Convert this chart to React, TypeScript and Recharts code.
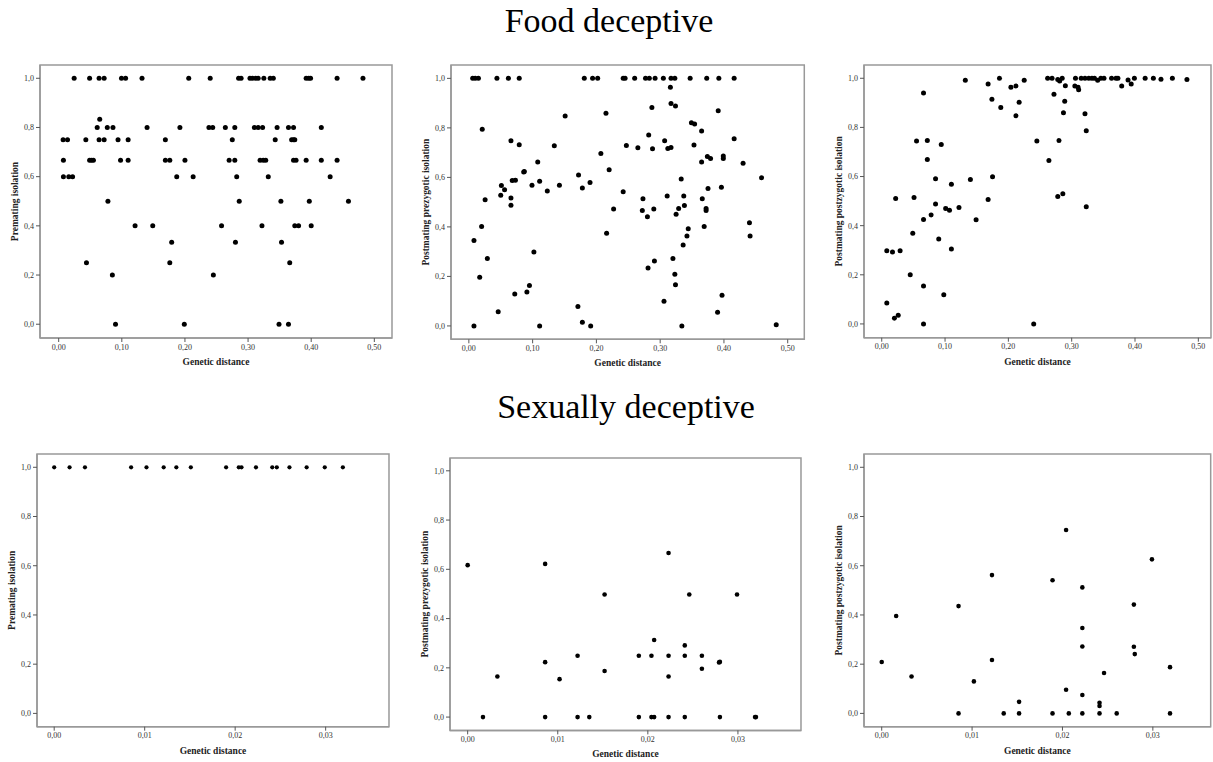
import React from "react";
import { ScatterChart, Scatter, XAxis, YAxis, ReferenceArea, Label } from "recharts";

const topXTicks = [0, 0.1, 0.2, 0.3, 0.4, 0.5];
const bottomXTicks = [0, 0.01, 0.02, 0.03];
const yTicks = [0, 0.2, 0.4, 0.6, 0.8, 1.0];

// Food deceptive - premating isolation
const foodPreX = [
  0.0245, 0.049, 0.064, 0.072, 0.0995, 0.106, 0.132, 0.206, 0.24, 0.285, 0.289, 0.303, 0.307, 0.312, 0.316, 0.325, 0.335, 0.34, 0.392, 0.396, 0.399, 0.441, 0.482,
  0.065,
  0.061, 0.077, 0.086, 0.14, 0.192, 0.238, 0.244, 0.264, 0.279, 0.31, 0.316, 0.323, 0.346, 0.364, 0.372, 0.416,
  0.007, 0.014, 0.043, 0.064, 0.072, 0.094, 0.11, 0.169, 0.275, 0.343, 0.369, 0.372, 0.374,
  0.0075, 0.049, 0.052, 0.055, 0.098, 0.11, 0.169, 0.176, 0.2, 0.27, 0.279, 0.319, 0.324, 0.328, 0.372, 0.376, 0.392, 0.416, 0.441,
  0.0075, 0.016, 0.022, 0.187, 0.213, 0.282, 0.332, 0.43,
  0.078, 0.286, 0.352, 0.397, 0.459,
  0.121, 0.149, 0.258, 0.322, 0.374, 0.38, 0.4,
  0.179, 0.28, 0.353,
  0.044, 0.176, 0.366,
  0.085, 0.245,
  0.09, 0.199, 0.349, 0.364,
];
const foodPreY = [
  1, 1, 1, 1, 1, 1, 1, 1, 1, 1, 1, 1, 1, 1, 1, 1, 1, 1, 1, 1, 1, 1, 1,
  0.833,
  0.8, 0.8, 0.8, 0.8, 0.8, 0.8, 0.8, 0.8, 0.8, 0.8, 0.8, 0.8, 0.8, 0.8, 0.8, 0.8,
  0.75, 0.75, 0.75, 0.75, 0.75, 0.75, 0.75, 0.75, 0.75, 0.75, 0.75, 0.75, 0.75,
  0.667, 0.667, 0.667, 0.667, 0.667, 0.667, 0.667, 0.667, 0.667, 0.667, 0.667, 0.667, 0.667, 0.667, 0.667, 0.667, 0.667, 0.667, 0.667,
  0.6, 0.6, 0.6, 0.6, 0.6, 0.6, 0.6, 0.6,
  0.5, 0.5, 0.5, 0.5, 0.5,
  0.4, 0.4, 0.4, 0.4, 0.4, 0.4, 0.4,
  0.333, 0.333, 0.333,
  0.25, 0.25, 0.25,
  0.2, 0.2,
  0, 0, 0, 0,
];

// Food deceptive - postmating prezygotic isolation
const foodPrezX = [
  0.006, 0.01, 0.015, 0.044, 0.062, 0.079, 0.181, 0.194, 0.202,
  0.242, 0.245, 0.26, 0.277, 0.283, 0.292, 0.305, 0.317, 0.323, 0.347, 0.373, 0.392, 0.416,
  0.021, 0.151, 0.215, 0.066, 0.079, 0.134, 0.207, 0.108, 0.086, 0.087, 0.22, 0.068, 0.073, 0.111, 0.172,
  0.051, 0.099, 0.142, 0.178, 0.19, 0.056, 0.123, 0.05, 0.066, 0.066, 0.0255, 0.02, 0.216, 0.008, 0.102,
  0.029, 0.017, 0.095, 0.091, 0.072, 0.171, 0.046, 0.178, 0.008, 0.111, 0.191,
  0.316, 0.317, 0.324, 0.287, 0.391, 0.349, 0.354, 0.365, 0.282, 0.416, 0.307, 0.247, 0.265, 0.288, 0.312,
  0.317, 0.353, 0.399, 0.399, 0.374, 0.379, 0.365, 0.43, 0.333, 0.459, 0.396, 0.375, 0.242, 0.311, 0.337,
  0.273, 0.366, 0.227, 0.272, 0.29, 0.338, 0.329, 0.325, 0.372, 0.372, 0.28, 0.44, 0.369, 0.344, 0.342,
  0.441, 0.336, 0.291, 0.281, 0.32, 0.323, 0.324, 0.397, 0.306, 0.39, 0.334, 0.482,
];
const foodPrezY = [
  1, 1, 1, 1, 1, 1, 1, 1, 1,
  1, 1, 1, 1, 1, 1, 1, 1, 1, 1, 1, 1, 1,
  0.794, 0.848, 0.859, 0.748, 0.732, 0.728, 0.697, 0.662, 0.622, 0.624, 0.631, 0.587, 0.588, 0.584, 0.61,
  0.567, 0.568, 0.568, 0.557, 0.579, 0.55, 0.545, 0.528, 0.517, 0.487, 0.51, 0.402, 0.374, 0.345, 0.299,
  0.272, 0.197, 0.163, 0.137, 0.129, 0.078, 0.057, 0.015, 0, 0, 0,
  0.964, 0.898, 0.888, 0.882, 0.869, 0.821, 0.816, 0.787, 0.771, 0.756, 0.748, 0.729, 0.72, 0.716, 0.717,
  0.721, 0.731, 0.686, 0.676, 0.684, 0.676, 0.662, 0.657, 0.594, 0.599, 0.56, 0.555, 0.542, 0.525, 0.525,
  0.514, 0.514, 0.472, 0.466, 0.472, 0.486, 0.474, 0.451, 0.474, 0.466, 0.441, 0.417, 0.402, 0.393, 0.363,
  0.363, 0.327, 0.262, 0.234, 0.272, 0.209, 0.166, 0.124, 0.1, 0.055, 0, 0.005,
];

// Food deceptive - postmating postzygotic isolation
const foodPostX = [
  0.132, 0.066, 0.168, 0.186, 0.174, 0.188, 0.204, 0.212, 0.217, 0.212, 0.225, 0.055, 0.072, 0.094,
  0.072, 0.085, 0.14, 0.175, 0.11, 0.022, 0.051, 0.168, 0.085, 0.101, 0.107, 0.078, 0.122, 0.066,
  0.149, 0.049, 0.09, 0.008, 0.017, 0.029, 0.11, 0.045, 0.066, 0.098, 0.008, 0.02, 0.026, 0.066,
  0.262, 0.269, 0.278, 0.281, 0.285, 0.272, 0.29, 0.289, 0.287, 0.245, 0.28, 0.264, 0.278, 0.286,
  0.323, 0.321, 0.323, 0.24, 0.305, 0.31, 0.311, 0.306, 0.315, 0.321, 0.327, 0.332, 0.336, 0.341,
  0.346, 0.351, 0.363, 0.37, 0.373, 0.379, 0.389, 0.394, 0.399, 0.416, 0.429, 0.441, 0.459, 0.482,
];
const foodPostY = [
  0.992, 0.94, 0.977, 1, 0.915, 0.881, 0.963, 0.969, 0.902, 0.847, 0.992, 0.745, 0.747, 0.73,
  0.669, 0.591, 0.588, 0.599, 0.569, 0.511, 0.515, 0.507, 0.488, 0.47, 0.463, 0.443, 0.474, 0.425,
  0.424, 0.369, 0.346, 0.298, 0.293, 0.298, 0.305, 0.2, 0.154, 0.119, 0.085, 0.023, 0.035, 0,
  1, 1, 0.995, 0.989, 1, 0.935, 0.97, 0.906, 0.86, 0.745, 0.747, 0.665, 0.519, 0.53,
  0.477, 0.856, 0.786, 0, 0.969, 0.963, 0.953, 1, 1, 1, 1, 1, 1, 0.992,
  1, 1, 1, 1, 1, 0.969, 0.993, 0.977, 1, 1, 1, 0.996, 1, 0.995,
];

// Sexually deceptive - premating isolation
const sexPreX = [
  0, 0.0017, 0.0034, 0.0085, 0.0102, 0.0121, 0.0135, 0.0151, 0.019,
  0.0204, 0.0207, 0.0223, 0.0241, 0.0246, 0.026, 0.0279, 0.0299, 0.0319,
];
const sexPreY = [1, 1, 1, 1, 1, 1, 1, 1, 1, 1, 1, 1, 1, 1, 1, 1, 1, 1];

// Sexually deceptive - postmating prezygotic isolation
const sexPrezX = [
  0, 0.0017, 0.0033, 0.0086, 0.0086, 0.0086, 0.0102, 0.0122, 0.0122, 0.0135, 0.0152, 0.0152,
  0.019, 0.0204, 0.0207, 0.0223, 0.0223, 0.0223, 0.0241, 0.0241, 0.0246, 0.026, 0.026, 0.0279,
  0.028, 0.0299, 0.019, 0.0204, 0.0207, 0.0223, 0.0241, 0.028, 0.0319, 0.032,
];
const sexPrezY = [
  0.617, 0, 0.165, 0.622, 0.223, 0, 0.154, 0.249, 0, 0, 0.498, 0.187,
  0.249, 0.249, 0.313, 0.666, 0.249, 0.165, 0.291, 0.249, 0.498, 0.249, 0.196, 0.222,
  0.224, 0.498, 0, 0, 0, 0, 0, 0, 0, 0,
];

// Sexually deceptive - postmating postzygotic isolation
const sexPostX = [
  0, 0.0016, 0.0033, 0.0085, 0.0085, 0.0102, 0.0122, 0.0122, 0.0135, 0.0152, 0.0152,
  0.0189, 0.0189, 0.0204, 0.0204, 0.0207, 0.0222, 0.0222, 0.0222, 0.0222, 0.0222,
  0.0246, 0.0241, 0.0241, 0.0241, 0.026, 0.0279, 0.0279, 0.028, 0.0299, 0.0319, 0.0319,
];
const sexPostY = [
  0.209, 0.396, 0.15, 0.436, 0, 0.13, 0.562, 0.217, 0, 0.047, 0,
  0.541, 0, 0.745, 0.096, 0, 0.512, 0.347, 0.272, 0.075, 0,
  0.164, 0.043, 0.03, 0, 0, 0.442, 0.271, 0.241, 0.626, 0.188, 0,
];

type PanelProps = {
  left: number;
  top: number;
  w: number;
  h: number;
  xs: number[];
  ys: number[];
  xDomain: [number, number];
  yDomain: [number, number];
  xTicks: number[];
  xDigits: number;
  yLabel: string;
  r?: number;
};

function Panel({ left, top, w, h, xs, ys, xDomain, yDomain, xTicks, xDigits, yLabel, r = 2.5 }: PanelProps) {
  const data = xs.map((x, i) => ({ x, y: ys[i] }));
  return (
    <div style={{ position: "absolute", left: left - 50, top: top - 5 }}>
      <ScatterChart width={w + 52} height={h + 40} margin={{ top: 5, right: 2, bottom: 0, left: 0 }}>
        <XAxis
          type="number"
          dataKey="x"
          domain={xDomain}
          ticks={xTicks}
          interval={0}
          allowDataOverflow
          height={35}
          tickFormatter={(v: number) => v.toFixed(xDigits).replace(".", ",")}
          tick={{ fontSize: 8, fill: "#333" }}
          tickSize={4}
          tickLine={{ stroke: "#555" }}
          axisLine={{ stroke: "#999", strokeWidth: 1.5 }}
        >
          <Label value="Genetic distance" position="insideBottom" offset={8} fontSize={9.5} fontWeight="bold" fill="#222" />
        </XAxis>
        <YAxis
          type="number"
          dataKey="y"
          domain={yDomain}
          ticks={yTicks}
          interval={0}
          allowDataOverflow
          width={50}
          tickFormatter={(v: number) => v.toFixed(1).replace(".", ",")}
          tick={{ fontSize: 8, fill: "#333" }}
          tickSize={4}
          tickLine={{ stroke: "#555" }}
          axisLine={{ stroke: "#999", strokeWidth: 1.5 }}
        >
          <Label value={yLabel} position="center" angle={-90} fontSize={9.5} fontWeight="bold" fill="#222" />
        </YAxis>
        <ReferenceArea
          x1={xDomain[0]}
          x2={xDomain[1]}
          y1={yDomain[0]}
          y2={yDomain[1]}
          fill="none"
          stroke="#999"
          strokeWidth={1.5}
          ifOverflow="visible"
        />
        <Scatter
          data={data}
          fill="#000"
          isAnimationActive={false}
          shape={(p: any) => <circle cx={p.cx} cy={p.cy} r={r} fill="#000" />}
        />
      </ScatterChart>
    </div>
  );
}

const titleStyle: React.CSSProperties = {
  position: "absolute",
  width: 600,
  textAlign: "center",
  fontSize: 34,
  lineHeight: "34px",
  color: "#000",
};

export default function App() {
  return (
    <div
      style={{
        position: "absolute",
        left: 0,
        top: 0,
        width: 1213,
        height: 762,
        overflow: "hidden",
        background: "#fff",
        fontFamily: "'Liberation Serif', 'DejaVu Serif', serif",
      }}
    >
      <div style={{ ...titleStyle, left: 309, top: 4 }}>Food deceptive</div>
      <div style={{ ...titleStyle, left: 326, top: 390 }}>Sexually deceptive</div>

      <Panel left={40} top={65} w={352} h={273} xs={foodPreX} ys={foodPreY}
        xDomain={[-0.0296, 0.528]} yDomain={[-0.056, 1.054]} xTicks={topXTicks} xDigits={2}
        yLabel="Premating isolation" />
      <Panel left={450.7} top={65} w={353.3} h={274.3} xs={foodPrezX} ys={foodPrezY}
        xDomain={[-0.028, 0.526]} yDomain={[-0.054, 1.054]} xTicks={topXTicks} xDigits={2}
        yLabel="Postmating prezygotic isolation" />
      <Panel left={864} top={65} w={347} h={272.7} xs={foodPostX} ys={foodPostY}
        xDomain={[-0.028, 0.52]} yDomain={[-0.056, 1.054]} xTicks={topXTicks} xDigits={2}
        yLabel="Postmating postzygotic isolation" />

      <Panel left={37.3} top={454} w={352} h={272.7} xs={sexPreX} ys={sexPreY}
        xDomain={[-0.0019, 0.037]} yDomain={[-0.054, 1.054]} xTicks={bottomXTicks} xDigits={2}
        yLabel="Premating isolation" r={2.1} />
      <Panel left={450} top={458.3} w={351} h={272.4} xs={sexPrezX} ys={sexPrezY}
        xDomain={[-0.00196, 0.037]} yDomain={[-0.054, 1.052]} xTicks={bottomXTicks} xDigits={2}
        yLabel="Postmating prezygotic isolation" r={2.3} />
      <Panel left={864.3} top={454} w={346.7} h={272.7} xs={sexPostX} ys={sexPostY}
        xDomain={[-0.00196, 0.0364]} yDomain={[-0.054, 1.054]} xTicks={bottomXTicks} xDigits={2}
        yLabel="Postmating postzygotic isolation" r={2.3} />
    </div>
  );
}
